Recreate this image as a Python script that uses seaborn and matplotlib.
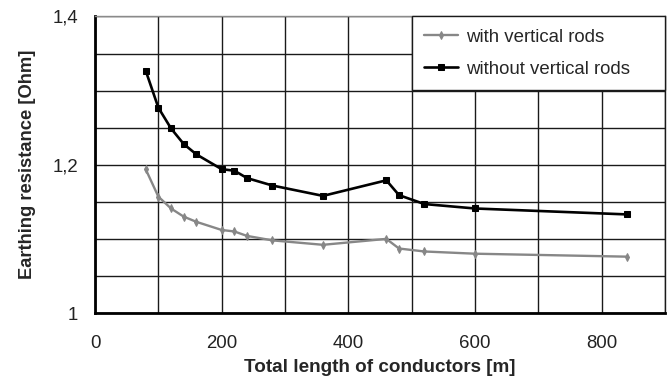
import matplotlib
matplotlib.use("Agg")
import matplotlib.pyplot as plt
import matplotlib.ticker as mticker
import numpy as np
import pandas as pd
import seaborn as sns

# Total conductor length [m]
length = [80, 100, 120, 140, 160, 200, 220, 240, 280, 360, 460, 480, 520, 600, 840]
# Earthing resistance [Ohm]
with_rods = [1.194, 1.157, 1.141, 1.130, 1.123, 1.112, 1.110, 1.104, 1.098,
             1.092, 1.100, 1.087, 1.083, 1.080, 1.076]
without_rods = [1.327, 1.277, 1.249, 1.228, 1.214, 1.194, 1.192, 1.182, 1.172,
                1.158, 1.179, 1.159, 1.147, 1.141, 1.133]
series_names = ["with vertical rods", "without vertical rods"]

x_ticks = [0, 200, 400, 600, 800]
y_ticks = [1.0, 1.2, 1.4]
y_tick_labels = ["1", "1,2", "1,4"]

df = pd.concat([
    pd.DataFrame({"length": length, "R": with_rods, "series": series_names[0]}),
    pd.DataFrame({"length": length, "R": without_rods, "series": series_names[1]}),
])

sns.set_style("white")
plt.rcParams["font.family"] = ["Liberation Sans", "DejaVu Sans"]

fig, ax = plt.subplots(figsize=(6.72, 3.8), dpi=100)
fig.subplots_adjust(left=0.1414, right=0.9896, top=0.9566, bottom=0.1763)

palette = {series_names[0]: "#878787", series_names[1]: "#000000"}
markers = {series_names[0]: "d", series_names[1]: "s"}
sns.lineplot(data=df, x="length", y="R", hue="series", style="series",
             palette=palette, markers=markers, dashes=False, ax=ax,
             sort=False, zorder=3)

for line in ax.lines:
    c = line.get_color()
    line.set_markeredgecolor(c)
    line.set_markerfacecolor(c)
    if line.get_marker() == "s":
        line.set_markersize(4.8)
        line.set_linewidth(1.9)
    else:
        line.set_markersize(4.2)
        line.set_linewidth(1.7)

ax.set_xlim(0, 900)
ax.set_ylim(1.0, 1.4)
ax.xaxis.set_major_locator(mticker.FixedLocator(x_ticks))
ax.xaxis.set_minor_locator(mticker.MultipleLocator(100))
ax.yaxis.set_major_locator(mticker.FixedLocator(y_ticks))
ax.yaxis.set_major_formatter(mticker.FixedFormatter(y_tick_labels))
ax.yaxis.set_minor_locator(mticker.MultipleLocator(0.05))

ax.grid(True, which="both", color="#1a1a1a", linewidth=1.0)
ax.set_axisbelow(True)

ax.tick_params(axis="both", which="major", direction="inout", length=6,
               width=1.5, color="black", labelsize=13.4, pad=9,
               labelcolor="#222222")
ax.tick_params(axis="both", which="minor", length=0)
ax.tick_params(axis="x", pad=13)

for side in ["left", "bottom"]:
    ax.spines[side].set_color("black")
    ax.spines[side].set_linewidth(2.0)
ax.spines["top"].set_color("#8a8a8a")
ax.spines["top"].set_linewidth(1.0)
ax.spines["right"].set_color("#1a1a1a")
ax.spines["right"].set_linewidth(1.0)

ax.set_xlabel("Total length of conductors [m]", fontsize=13.6,
              fontweight="bold", labelpad=5)
ax.set_ylabel("Earthing resistance [Ohm]", fontsize=13.2,
              fontweight="bold", labelpad=12)

handles, labels = ax.get_legend_handles_labels()
leg = ax.legend(handles, labels, loc="upper left",
                bbox_to_anchor=(0.556, 0.0, 0.444, 1.0), mode="expand",
                borderaxespad=0, borderpad=0.65, handlelength=1.8,
                handletextpad=0.45, labelspacing=0.8, fontsize=13.4,
                frameon=True, fancybox=False, framealpha=1.0,
                edgecolor="#1a1a1a", title=None)
leg.get_frame().set_linewidth(1.0)
leg.set_zorder(5)

fig.savefig("out.png", dpi=100)
